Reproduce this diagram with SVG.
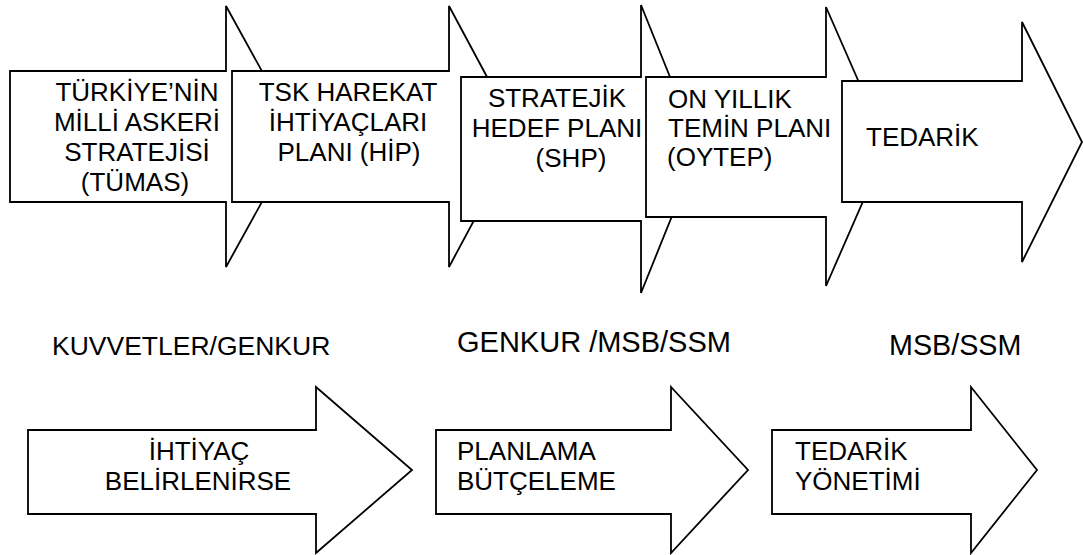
<svg xmlns="http://www.w3.org/2000/svg" width="1083" height="555" viewBox="0 0 1083 555">
<style>
.ar{fill:#fff;stroke:#000;stroke-width:1.8;stroke-linejoin:miter}
.t{font-family:"Liberation Sans",Arial,sans-serif;font-size:26px;fill:#000}
.c{text-anchor:middle}
.m{font-family:"Liberation Sans",Arial,sans-serif;fill:#000}
</style>
<rect width="1083" height="555" fill="#fff"/>
<g id="top-arrows">
<g id="n1">
<polygon class="ar" points="10,71 226,71 226,6 298,136.5 226,267 226,202 10,202"/>
<text class="t c" x="137" y="101">TÜRKİYE’NİN</text>
<text class="t c" x="137" y="131">MİLLİ ASKERİ</text>
<text class="t c" x="137" y="161">STRATEJİSİ</text>
<text class="t c" x="135" y="191">(TÜMAS)</text>
</g>
<g id="n2">
<polygon class="ar" points="232,71 449,71 449,6 519,136.5 449,267 449,202 232,202"/>
<text class="t c" x="348" y="101">TSK HAREKAT</text>
<text class="t c" x="348" y="131">İHTİYAÇLARI</text>
<text class="t c" x="349" y="161">PLANI (HİP)</text>
</g>
<g id="n3">
<polygon class="ar" points="461,77 641,77 641,5 699,149 641,293 641,221 461,221"/>
<text class="t c" x="557" y="107">STRATEJİK</text>
<text class="t c" x="557" y="137">HEDEF PLANI</text>
<text class="t c" x="571" y="167">(SHP)</text>
</g>
<g id="n4">
<polygon class="ar" points="646,77 826,77 826,7 887,146.5 826,286 826,217 646,217"/>
<text class="t" x="668" y="108">ON YILLIK</text>
<text class="t" x="668" y="137">TEMİN PLANI</text>
<text class="t" x="667" y="166">(OYTEP)</text>
</g>
<g id="n5">
<polygon class="ar" points="842,81 1022,81 1022,22 1082,142 1022,262 1022,202 842,202"/>
<text class="t" x="866" y="146">TEDARİK</text>
</g>
</g>
<g id="labels">
<text id="l1" class="m" x="52" y="355" font-size="26.5">KUVVETLER/GENKUR</text>
<text id="l2" class="m" x="457" y="352" font-size="29">GENKUR /MSB/SSM</text>
<text id="l3" class="m" x="889" y="355" font-size="28.7">MSB/SSM</text>
</g>
<g id="bottom-arrows">
<g id="b1">
<polygon class="ar" points="28,430 316,430 316,387 412,470 316,553 316,514 28,514"/>
<text class="t c" x="199" y="460">İHTİYAÇ</text>
<text class="t c" x="198" y="490">BELİRLENİRSE</text>
</g>
<g id="b2">
<polygon class="ar" points="436,430 671,430 671,387 748,470 671,553 671,514 436,514"/>
<text class="t" x="457" y="460">PLANLAMA</text>
<text class="t" x="457" y="490">BÜTÇELEME</text>
</g>
<g id="b3">
<polygon class="ar" points="772,430 971,430 971,387 1037,470 971,553 971,514 772,514"/>
<text class="t" x="795" y="460">TEDARİK</text>
<text class="t" x="795" y="490">YÖNETİMİ</text>
</g>
</g>
<g id="connectors"></g>
</svg>
